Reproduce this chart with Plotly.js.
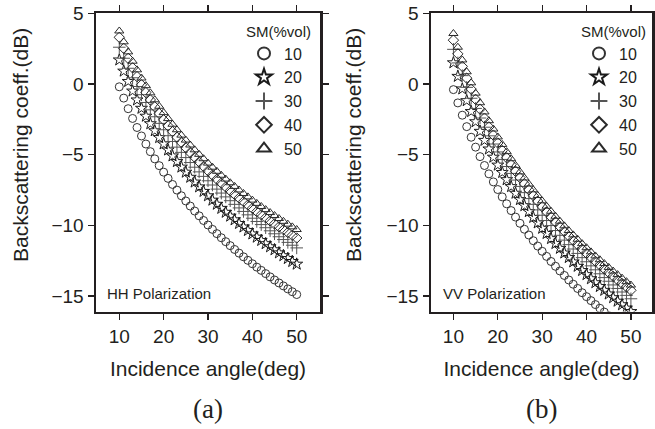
<!DOCTYPE html>
<html>
<head>
<meta charset="utf-8">
<script src="https://cdn.plot.ly/plotly-3.0.1.min.js"></script>
<style>html,body{margin:0;padding:0;background:#fff}#chart{width:655px;height:429px}</style>
</head>
<body>
<div id="chart"></div>
<script>
// Incidence angle (deg)
const angles = [10,11,12,13,14,15,16,17,18,19,20,21,22,23,24,25,26,27,28,29,30,31,32,33,34,35,36,37,38,39,40,41,42,43,44,45,46,47,48,49,50];
const smLabels = ['10','20','30','40','50'];
const legendTitle = 'SM(%vol)';

// HH polarization backscattering coefficient (dB)
const hh10 = [-0.20,-1.00,-1.75,-2.44,-3.08,-3.68,-4.25,-4.79,-5.30,-5.78,-6.24,-6.68,-7.11,-7.51,-7.91,-8.28,-8.64,-8.99,-9.33,-9.66,-9.98,-10.29,-10.59,-10.88,-11.16,-11.44,-11.71,-11.97,-12.23,-12.48,-12.72,-12.96,-13.19,-13.42,-13.65,-13.87,-14.08,-14.29,-14.50,-14.70,-14.90];
const hh20 = [1.70,0.91,0.18,-0.50,-1.13,-1.72,-2.28,-2.81,-3.31,-3.79,-4.24,-4.67,-5.09,-5.49,-5.88,-6.24,-6.60,-6.94,-7.28,-7.60,-7.91,-8.22,-8.51,-8.80,-9.08,-9.35,-9.61,-9.87,-10.12,-10.37,-10.61,-10.84,-11.07,-11.30,-11.52,-11.73,-11.95,-12.15,-12.35,-12.56,-12.75];
const hh30 = [2.60,1.82,1.11,0.44,-0.18,-0.76,-1.31,-1.83,-2.32,-2.79,-3.24,-3.66,-4.07,-4.47,-4.84,-5.21,-5.56,-5.89,-6.22,-6.54,-6.85,-7.15,-7.44,-7.72,-7.99,-8.26,-8.52,-8.77,-9.02,-9.26,-9.50,-9.73,-9.95,-10.17,-10.39,-10.60,-10.81,-11.01,-11.21,-11.41,-11.60];
const hh40 = [3.30,2.52,1.81,1.14,0.52,-0.06,-0.61,-1.13,-1.62,-2.09,-2.54,-2.96,-3.37,-3.77,-4.14,-4.51,-4.86,-5.19,-5.52,-5.84,-6.15,-6.45,-6.74,-7.02,-7.29,-7.56,-7.82,-8.07,-8.32,-8.56,-8.80,-9.03,-9.25,-9.47,-9.69,-9.90,-10.11,-10.31,-10.51,-10.71,-10.90];
const hh50 = [3.75,2.98,2.27,1.61,1.00,0.42,-0.12,-0.63,-1.12,-1.58,-2.03,-2.45,-2.85,-3.24,-3.62,-3.97,-4.32,-4.66,-4.98,-5.29,-5.60,-5.89,-6.18,-6.46,-6.73,-6.99,-7.25,-7.50,-7.75,-7.99,-8.22,-8.45,-8.67,-8.89,-9.10,-9.31,-9.52,-9.72,-9.92,-10.11,-10.30];

// VV polarization backscattering coefficient (dB)
const vv10 = [-0.40,-1.34,-2.21,-3.02,-3.77,-4.47,-5.14,-5.77,-6.36,-6.93,-7.47,-7.99,-8.48,-8.96,-9.42,-9.86,-10.28,-10.69,-11.09,-11.47,-11.84,-12.20,-12.56,-12.90,-13.23,-13.55,-13.87,-14.17,-14.47,-14.77,-15.05,-15.33,-15.61,-15.87,-16.14,-16.39,-16.64,-16.89,-17.13,-17.37,-17.60];
const vv20 = [1.50,0.54,-0.35,-1.18,-1.95,-2.67,-3.35,-3.99,-4.60,-5.18,-5.74,-6.26,-6.77,-7.26,-7.73,-8.18,-8.61,-9.03,-9.44,-9.83,-10.21,-10.58,-10.94,-11.29,-11.63,-11.96,-12.28,-12.59,-12.90,-13.20,-13.49,-13.78,-14.06,-14.33,-14.60,-14.86,-15.12,-15.37,-15.62,-15.86,-16.10];
const vv30 = [2.45,1.49,0.59,-0.24,-1.01,-1.73,-2.41,-3.06,-3.67,-4.25,-4.81,-5.34,-5.84,-6.33,-6.80,-7.25,-7.69,-8.11,-8.52,-8.91,-9.29,-9.66,-10.02,-10.37,-10.71,-11.05,-11.37,-11.68,-11.99,-12.29,-12.58,-12.87,-13.15,-13.43,-13.70,-13.96,-14.22,-14.47,-14.72,-14.96,-15.20];
const vv40 = [3.10,2.13,1.24,0.41,-0.37,-1.09,-1.78,-2.42,-3.04,-3.62,-4.18,-4.71,-5.22,-5.71,-6.18,-6.63,-7.07,-7.49,-7.90,-8.29,-8.68,-9.05,-9.41,-9.76,-10.10,-10.43,-10.76,-11.07,-11.38,-11.68,-11.98,-12.27,-12.55,-12.82,-13.09,-13.35,-13.61,-13.87,-14.12,-14.36,-14.60];
const vv50 = [3.57,2.60,1.70,0.86,0.08,-0.65,-1.33,-1.98,-2.60,-3.19,-3.75,-4.28,-4.79,-5.29,-5.76,-6.22,-6.65,-7.08,-7.49,-7.89,-8.27,-8.65,-9.01,-9.36,-9.71,-10.04,-10.37,-10.68,-10.99,-11.30,-11.59,-11.88,-12.17,-12.44,-12.71,-12.98,-13.24,-13.49,-13.74,-13.99,-14.23];

const hhSeries = [hh10, hh20, hh30, hh40, hh50];
const vvSeries = [vv10, vv20, vv30, vv40, vv50];

const symbols = ['circle-open','star-open','cross-thin-open','diamond-open','triangle-up-open'];
const colors = ['#333333','#1a1a1a','#555555','#2a2a2a','#2a2a2a'];
const sizes = [8, 9, 9, 8, 8];

const traces = [];
hhSeries.forEach((ys, i) => traces.push({
  type: 'scatter', mode: 'markers', x: angles, y: ys, name: smLabels[i],
  xaxis: 'x', yaxis: 'y', legend: 'legend',
  marker: {symbol: symbols[i], size: sizes[i], color: colors[i], line: {width: 1, color: colors[i]}}
}));
vvSeries.forEach((ys, i) => traces.push({
  type: 'scatter', mode: 'markers', x: angles, y: ys, name: smLabels[i],
  xaxis: 'x2', yaxis: 'y2', legend: 'legend2',
  marker: {symbol: symbols[i], size: sizes[i], color: colors[i], line: {width: 1, color: colors[i]}}
}));

const W = 655, H = 429;
const txt = '#231f20';
const sans = 'Liberation Sans, Arial, sans-serif';
const serif = 'Liberation Serif, Times New Roman, serif';

function xAx(dom, rng, anchor) {
  return {
    domain: dom, range: rng, anchor: anchor,
    tickmode: 'linear', tick0: 10, dtick: 10,
    ticks: 'outside', ticklen: 6, tickwidth: 1.2, tickcolor: txt,
    showline: true, linewidth: 2.5, linecolor: txt, mirror: 'allticks',
    showgrid: false, zeroline: false,
    tickfont: {family: sans, size: 19, color: txt},
    title: {text: 'Incidence angle(deg)', font: {family: sans, size: 21, color: txt}, standoff: 16}
  };
}
function yAx(anchor) {
  return {
    domain: [1 - 311.5 / H, 1 - 13.3 / H], range: [-16.1, 5], anchor: anchor,
    tickmode: 'linear', tick0: -15, dtick: 5,
    ticks: 'outside', ticklen: 6, tickwidth: 1.2, tickcolor: txt,
    showline: true, linewidth: 2.5, linecolor: txt, mirror: 'allticks',
    showgrid: false, zeroline: false,
    tickfont: {family: sans, size: 19, color: txt}
  };
}
function leg(xpx) {
  return {
    x: xpx / W, y: 1 - 17 / H, xanchor: 'left', yanchor: 'top',
    bgcolor: 'rgba(0,0,0,0)', borderwidth: 0,
    font: {family: sans, size: 16, color: txt},
    title: {text: legendTitle, font: {family: sans, size: 15, color: txt}},
    itemsizing: 'constant', tracegroupgap: 0
  };
}

const layout = {
  width: W, height: H,
  margin: {l: 0, r: 0, t: 0, b: 0},
  paper_bgcolor: '#fff', plot_bgcolor: '#fff',
  showlegend: true,
  xaxis: xAx([96 / W, 320 / W], [4.75, 55.25], 'y'),
  yaxis: yAx('x'),
  xaxis2: xAx([431 / W, 652 / W], [4.95, 54.75], 'y2'),
  yaxis2: yAx('x2'),
  legend: leg(244),
  legend2: leg(579),
  annotations: [
    {text: 'Backscattering coeff.(dB)', xref: 'paper', yref: 'paper', x: 20 / W, y: 1 - 145 / H,
     textangle: -90, showarrow: false, xanchor: 'center', yanchor: 'middle',
     font: {family: sans, size: 21, color: txt}},
    {text: 'Backscattering coeff.(dB)', xref: 'paper', yref: 'paper', x: 353 / W, y: 1 - 145 / H,
     textangle: -90, showarrow: false, xanchor: 'center', yanchor: 'middle',
     font: {family: sans, size: 21, color: txt}},
    {text: 'HH Polarization', xref: 'paper', yref: 'paper', x: 105 / W, y: 1 - 293 / H,
     showarrow: false, xanchor: 'left', yanchor: 'middle', font: {family: sans, size: 15, color: txt}},
    {text: 'VV Polarization', xref: 'paper', yref: 'paper', x: 441 / W, y: 1 - 293 / H,
     showarrow: false, xanchor: 'left', yanchor: 'middle', font: {family: sans, size: 15, color: txt}},
    {text: '(a)', xref: 'paper', yref: 'paper', x: 208 / W, y: 1 - 409 / H,
     showarrow: false, xanchor: 'center', yanchor: 'middle', font: {family: serif, size: 27, color: txt}},
    {text: '(b)', xref: 'paper', yref: 'paper', x: 541 / W, y: 1 - 409 / H,
     showarrow: false, xanchor: 'center', yanchor: 'middle', font: {family: serif, size: 27, color: txt}}
  ]
};

Plotly.newPlot('chart', traces, layout, {staticPlot: true, displayModeBar: false});
</script>
</body>
</html>
